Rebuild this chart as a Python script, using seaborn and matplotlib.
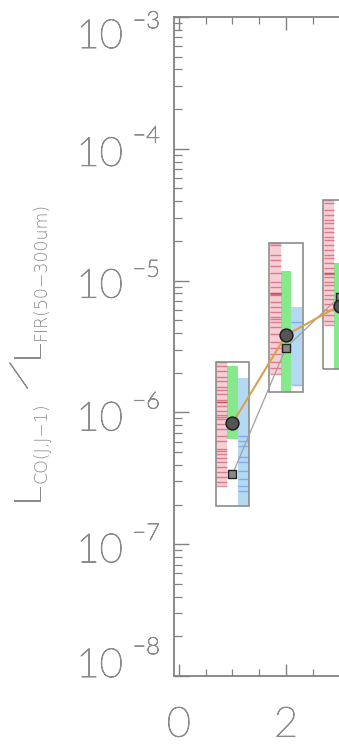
import numpy as np
import pandas as pd
import matplotlib
matplotlib.use("Agg")
import matplotlib.pyplot as plt
import matplotlib.patheffects as pe
import seaborn as sns
from matplotlib.ticker import FixedLocator, LogLocator, MultipleLocator, NullFormatter

# ---- data -------------------------------------------------------------
J = [1, 2, 3]

# individual galaxy ratios (red crosses)
red_j1 = [2.43e-6, 2.23e-6, 2.05e-6, 1.87e-6, 1.72e-6, 1.57e-6, 1.49e-6, 1.37e-6,
          1.25e-6, 1.19e-6, 1.11e-6, 1.02e-6, 9.5e-7, 8.85e-7, 8.1e-7, 7.43e-7,
          6.58e-7, 6.03e-7, 5.25e-7, 4.81e-7, 4.49e-7, 4.18e-7, 3.83e-7, 3.51e-7,
          3.22e-7, 2.95e-7, 2.75e-7, 1.19e-6, 9.2e-7, 5.1e-7]
red_j2 = [1.94e-5, 1.87e-5, 1.57e-5, 1.44e-5, 1.28e-5, 1.15e-5, 9.8e-6, 9.0e-6,
          8.1e-6, 7.8e-6, 6.9e-6, 6.35e-6, 5.82e-6, 5.33e-6, 5.07e-6, 4.81e-6,
          4.41e-6, 3.9e-6, 3.45e-6, 3.1e-6, 2.75e-6, 2.43e-6, 2.19e-6, 1.94e-6,
          8.0e-6, 7.9e-6]
red_j3 = [4.11e-5, 3.9e-5, 3.45e-5, 3.16e-5, 2.9e-5, 2.75e-5, 2.52e-5, 2.35e-5,
          2.15e-5, 2.05e-5, 1.87e-5, 1.72e-5, 1.57e-5, 1.49e-5, 1.37e-5, 1.25e-5,
          1.15e-5, 1.07e-5, 9.8e-6, 9.3e-6, 8.55e-6, 7.8e-6, 7.2e-6, 6.6e-6,
          6.0e-6, 5.5e-6, 4.9e-6, 4.64e-6, 1.15e-5, 1.13e-5]
red_vals = [red_j1, red_j2, red_j3]

# model range (green band)
green_lo = [6.24e-7, 1.42e-6, 2.14e-6]
green_hi = [2.23e-6, 1.19e-5, 1.37e-5]

# second sample (blue band + individual values)
blue_lo = [1.94e-7, 1.60e-6, 2.6e-6]
blue_hi = [1.81e-6, 6.35e-6, 1.6e-5]
blue_j1 = [6.58e-7, 6.03e-7, 5.52e-7, 4.56e-7, 4.18e-7, 3.57e-7, 3.1e-7, 2.75e-7, 2.52e-7]
blue_j2 = [4.81e-6, 1.62e-6]
blue_j3 = []
blue_vals = [blue_j1, blue_j2, blue_j3]

# sample medians
circle_vals = [8.26e-7, 3.85e-6, 6.47e-6]
square_vals = [3.39e-7, 3.10e-6, 7.57e-6]

x_ticks = [0, 2]
x_ticklabels = ["0", "2"]
y_ticks = [1e-8, 1e-7, 1e-6, 1e-5, 1e-4, 1e-3]
y_tick_base = "10"
y_tick_exp = ["\u22128", "\u22127", "\u22126", "\u22125", "\u22124", "\u22123"]

# ---- style ------------------------------------------------------------
sns.set_theme(style="ticks")
plt.rcParams["font.family"] = ["Lato", "DejaVu Sans"]
plt.rcParams["font.weight"] = "light"

TXT = "#8a8a8a"
AX = "#828282"
RED_FILL = "#f2bfc7"
RED_LINE = "#bf2a40"
GREEN = "#86ea8c"
BLUE_FILL = "#acd6f2"
BLUE_LINE = "#5a82f0"
# slightly thicken the light strokes
THICK = [pe.withStroke(linewidth=0.7, foreground=TXT)]

fig = plt.figure(figsize=(3.39, 7.47), dpi=100)
W, H = 339.0, 747.0
ax = fig.add_axes([174 / W, 71 / H, 305 / W, 659 / H])
ax.set_yscale("log")
ax.set_xlim(-0.09, 5.6)
ax.set_ylim(1e-8, 1e-3)

bw = 0.2
for i, j in enumerate(J):
    rv = red_vals[i]
    lo_all = min(min(rv), green_lo[i], blue_lo[i])
    hi_all = max(max(rv), green_hi[i], blue_hi[i])
    # red: spread of individual galaxies
    ax.bar(j - bw, max(rv) - min(rv), bottom=min(rv), width=bw,
           color=RED_FILL, alpha=0.75, linewidth=0, zorder=1)
    ax.hlines(rv, j - 1.5 * bw, j - 0.5 * bw, color=RED_LINE, alpha=0.5,
              linewidth=1.0, zorder=1.5)
    # green: model range
    ax.bar(j, green_hi[i] - green_lo[i], bottom=green_lo[i], width=bw,
           color=GREEN, linewidth=0, zorder=1)
    # blue: second sample
    ax.bar(j + bw, blue_hi[i] - blue_lo[i], bottom=blue_lo[i], width=bw,
           color=BLUE_FILL, alpha=0.9, linewidth=0, zorder=1)
    if blue_vals[i]:
        ax.hlines(blue_vals[i], j + 0.5 * bw, j + 1.5 * bw, color=BLUE_LINE,
                  alpha=0.55, linewidth=1.0, zorder=1.5)
    # outline enclosing all ranges
    ax.bar(j, hi_all - lo_all, bottom=lo_all, width=3.1 * bw, fill=False,
           edgecolor="#8c8c8c", linewidth=1.2, zorder=2)

df = pd.DataFrame({"J": J, "circle": circle_vals, "square": square_vals})
sns.lineplot(data=df, x="J", y="square", ax=ax, color="#a0a0a0", linewidth=0.9,
             sort=False, estimator=None, zorder=3)
sns.lineplot(data=df, x="J", y="circle", ax=ax, color="#d6a24e", linewidth=1.5,
             sort=False, estimator=None, zorder=3)
sns.scatterplot(data=df, x="J", y="square", ax=ax, marker="s", s=34,
                color="#8a8a8a", edgecolor="#222222", linewidth=1.0, zorder=4)
sns.scatterplot(data=df, x="J", y="circle", ax=ax, marker="o", s=85,
                color="#555555", edgecolor="#1e1e1e", linewidth=1.1, zorder=5)

ax.set_xlabel("")
ax.set_ylabel("")

# ---- axes -------------------------------------------------------------
for side in ["left", "bottom", "top", "right"]:
    ax.spines[side].set_color(AX)
    ax.spines[side].set_linewidth(1.3)

ax.xaxis.set_major_locator(FixedLocator(x_ticks))
ax.set_xticklabels(x_ticklabels)
ax.xaxis.set_minor_locator(MultipleLocator(0.5))
ax.yaxis.set_major_locator(FixedLocator(y_ticks))
ax.set_yticklabels([])
ax.yaxis.set_minor_locator(LogLocator(base=10, subs=np.arange(2, 10)))
ax.yaxis.set_minor_formatter(NullFormatter())

ax.tick_params(axis="y", which="major", direction="in", length=11, width=1.0,
               color=AX, left=True, right=False)
ax.tick_params(axis="y", which="minor", direction="in", length=5.5, width=0.9,
               color=AX, left=True, right=False)
ax.tick_params(axis="x", which="major", direction="in", length=9, width=1.0,
               color=AX, bottom=True, top=True, labelsize=30, labelcolor=TXT, pad=22)
ax.tick_params(axis="x", which="minor", direction="in", length=5, width=0.9,
               color=AX, bottom=True, top=True)
for lab in ax.get_xticklabels():
    lab.set_path_effects(THICK)

# y tick labels: "10" with a raised exponent; the end labels sit inside the range
base_drop = [1, 18, 18, 17, 17, 31]     # px from tick down to the "10" baseline
exp_drop = [-22, -4, -4, -4, -6, 11]    # px from tick down to the exponent baseline
for v, e, bd, ed in zip(y_ticks, y_tick_exp, base_drop, exp_drop):
    ax.annotate(y_tick_base, xy=(0, v), xycoords=("axes fraction", "data"),
                xytext=(-51, -bd), textcoords="offset pixels", ha="right",
                va="baseline", fontsize=29, color=TXT, annotation_clip=False,
                path_effects=THICK)
    ax.annotate(e, xy=(0, v), xycoords=("axes fraction", "data"),
                xytext=(-14, -ed), textcoords="offset pixels", ha="right",
                va="baseline", fontsize=17, color=TXT, annotation_clip=False,
                path_effects=THICK)

# ---- y-axis title, built from pieces (rotated) -------------------------
def vtext(xpx, ypx, s, size, family=("Lato", "DejaVu Sans"), rot=90,
          ha="left", va="baseline", effects=THICK):
    fig.text(xpx / W, 1 - ypx / H, s, rotation=rot, rotation_mode="anchor",
             ha=ha, va=va, fontsize=size, color=TXT, family=list(family),
             weight="light", path_effects=effects)

vtext(40, 505, "L", 27)
vtext(46, 483, "CO(J,J\u22121)", 12.5, family=("DejaVu Sans",), effects=None)
vtext(21, 377, "/", 27, rot=58, ha="center", va="center")
vtext(40, 362, "L", 27)
vtext(46, 340, "FIR(50\u2212300um)", 12.5, family=("DejaVu Sans",), effects=None)

fig.savefig("out.png", dpi=100)
